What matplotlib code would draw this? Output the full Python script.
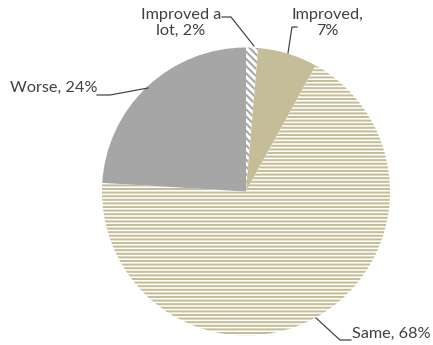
import matplotlib
matplotlib.use("Agg")
import matplotlib.pyplot as plt

# data
categories = ["Improved a lot", "Improved", "Same", "Worse"]
values = [1.35, 6.7, 67.9, 24.05]
labels = ["Improved a\nlot, 2%", "Improved,\n7%", "Same, 68%", "Worse, 24%"]

W, H, DPI = 433, 345, 108
plt.rcParams['hatch.linewidth'] = 1.35
plt.rcParams['font.family'] = ['Lato', 'DejaVu Sans']

fig = plt.figure(figsize=(W / DPI, H / DPI), dpi=DPI)
ax = fig.add_axes([0, 0, 1, 1])

def Y(y):
    return H - y

face = ["white", "#c4bd97", "white", "#a6a6a6"]
edge = ["#a6a6a6", "#c4bd97", "#c4bd97", "#a6a6a6"]
hatches = ["\\\\\\\\\\", None, "-----", None]

wedges, _ = ax.pie(values, startangle=90, counterclock=False,
                   center=(246, Y(191.5)), radius=144, colors=face)
for w, fc, ec, h in zip(wedges, face, edge, hatches):
    w.set_facecolor(fc)
    w.set_edgecolor(ec)
    w.set_linewidth(0)
    if h:
        w.set_hatch(h)

ax.set_xlim(0, W)
ax.set_ylim(0, H)
ax.set_aspect('auto')
ax.axis('off')

tc = "#404040"
fs = 10.8
lw = 0.8

# Improved a lot
ax.text(181, Y(23), labels[0], ha='center', va='center', fontsize=fs, color=tc, linespacing=1.15)
ax.plot([222, 231, 254], [Y(17), Y(17), Y(46)], color=tc, lw=lw)
# Improved
ax.text(327, Y(23), labels[1], ha='center', va='center', fontsize=fs, color=tc, linespacing=1.15)
ax.plot([297, 292, 288], [Y(27), Y(27), Y(53)], color=tc, lw=lw)
# Worse
ax.text(10, Y(88), labels[3], ha='left', va='center', fontsize=fs, color=tc)
ax.plot([97, 110, 148], [Y(95), Y(95), Y(88)], color=tc, lw=lw)
# Same
ax.text(352, Y(334), labels[2], ha='left', va='center', fontsize=fs, color=tc)
ax.plot([351, 340, 316], [Y(340), Y(340), Y(318)], color=tc, lw=lw)

fig.savefig("out.png", dpi=DPI)
